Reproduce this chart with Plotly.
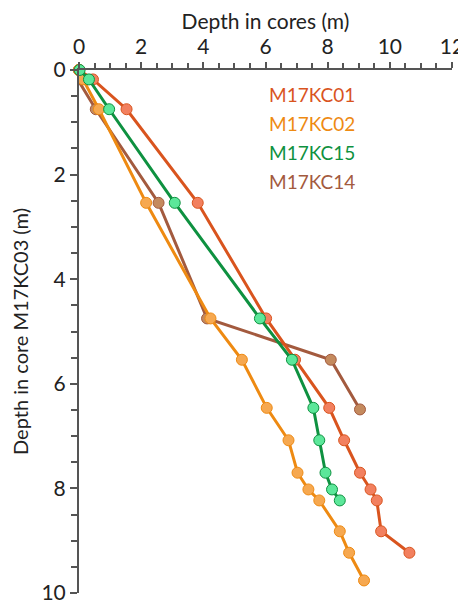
import plotly.graph_objects as go

# Depth in core M17KC03 (m) tie points
y_kc01 = [0.0, 0.18, 0.75, 2.54, 4.75, 5.54, 6.46, 7.08, 7.70, 8.02, 8.23, 8.82, 9.23]
x_kc01 = [0.0, 0.45, 1.53, 3.82, 6.02, 6.95, 8.05, 8.53, 9.04, 9.38, 9.58, 9.72, 10.63]

y_kc02 = [0.0, 0.18, 0.75, 2.54, 4.75, 5.54, 6.46, 7.08, 7.70, 8.02, 8.23, 8.82, 9.23, 9.76]
x_kc02 = [0.0, 0.13, 0.64, 2.16, 4.23, 5.24, 6.04, 6.74, 7.03, 7.38, 7.73, 8.39, 8.69, 9.17]

y_kc15 = [0.0, 0.18, 0.75, 2.54, 4.75, 5.54, 6.46, 7.08, 7.70, 8.02, 8.23]
x_kc15 = [0.02, 0.32, 0.97, 3.08, 5.82, 6.85, 7.54, 7.73, 7.93, 8.14, 8.39]

y_kc14 = [0.0, 0.20, 0.75, 2.54, 4.75, 5.54, 6.49]
x_kc14 = [0.0, -0.02, 0.54, 2.56, 4.12, 8.10, 9.04]

x_ticks = [0, 2, 4, 6, 8, 10, 12]
y_ticks = [0, 2, 4, 6, 8, 10]

names = ["M17KC01", "M17KC02", "M17KC15", "M17KC14"]
line_colors = ["#D9541E", "#EE8A12", "#0E9140", "#A35A3E"]
fill_colors = ["#F2805F", "#F6A850", "#5CE79A", "#C48A5E"]
text_colors = ["#D9541E", "#EE8A12", "#0E9140", "#A35A3E"]

series = {
    "M17KC01": (x_kc01, y_kc01),
    "M17KC02": (x_kc02, y_kc02),
    "M17KC15": (x_kc15, y_kc15),
    "M17KC14": (x_kc14, y_kc14),
}

FONT = "Lato"
fig = go.Figure()
for idx in [3, 0, 1, 2]:
    n = names[idx]
    xs, ys = series[n]
    fig.add_trace(go.Scatter(
        x=xs, y=ys, mode="lines+markers", name=n,
        line=dict(color=line_colors[idx], width=3),
        marker=dict(size=11, color=fill_colors[idx],
                    line=dict(color=line_colors[idx], width=1)),
        cliponaxis=False, showlegend=False,
    ))

for i, n in enumerate(names):
    fig.add_annotation(
        xref="paper", yref="paper", x=0.505, y=0.953 - i * 0.0555,
        xanchor="left", yanchor="middle", showarrow=False,
        text=n, font=dict(family=FONT, size=19, color=text_colors[i]),
    )

axis_col = "#555555"
fig.update_xaxes(
    side="top", range=[0, 12], tickmode="array",
    tickvals=x_ticks, ticktext=[str(v) for v in x_ticks],
    ticks="outside", ticklen=6, tickwidth=1.5, tickcolor=axis_col,
    minor=dict(dtick=0.5, ticks="outside", ticklen=5, tickwidth=1.5, tickcolor=axis_col),
    showline=True, linecolor=axis_col, linewidth=2, showgrid=False, zeroline=False,
    ticklabeloverflow="allow",
    tickfont=dict(family=FONT, size=21, color="#222222"),
    title=dict(text="Depth in cores (m)", font=dict(family=FONT, size=21, color="#222222"), standoff=6),
)
fig.update_yaxes(
    range=[10, 0], tickmode="array",
    tickvals=y_ticks, ticktext=[str(v) for v in y_ticks],
    ticks="outside", ticklen=7, tickwidth=1.5, tickcolor=axis_col,
    minor=dict(dtick=0.5, ticks="outside", ticklen=6, tickwidth=1.5, tickcolor=axis_col),
    showline=True, linecolor=axis_col, linewidth=2, showgrid=False, zeroline=False,
    ticklabeloverflow="allow",
    tickfont=dict(family=FONT, size=21, color="#222222"),
    title=dict(text="Depth in core M17KC03 (m)", font=dict(family=FONT, size=20, color="#222222"), standoff=18),
)
# the page body has an 8px default margin; size the figure to fit the window
fig.update_layout(
    width=458, height=596,
    margin=dict(l=71, r=14, t=62, b=11, autoexpand=False),
    plot_bgcolor="white", paper_bgcolor="white",
)
fig.write_html("out.html")
